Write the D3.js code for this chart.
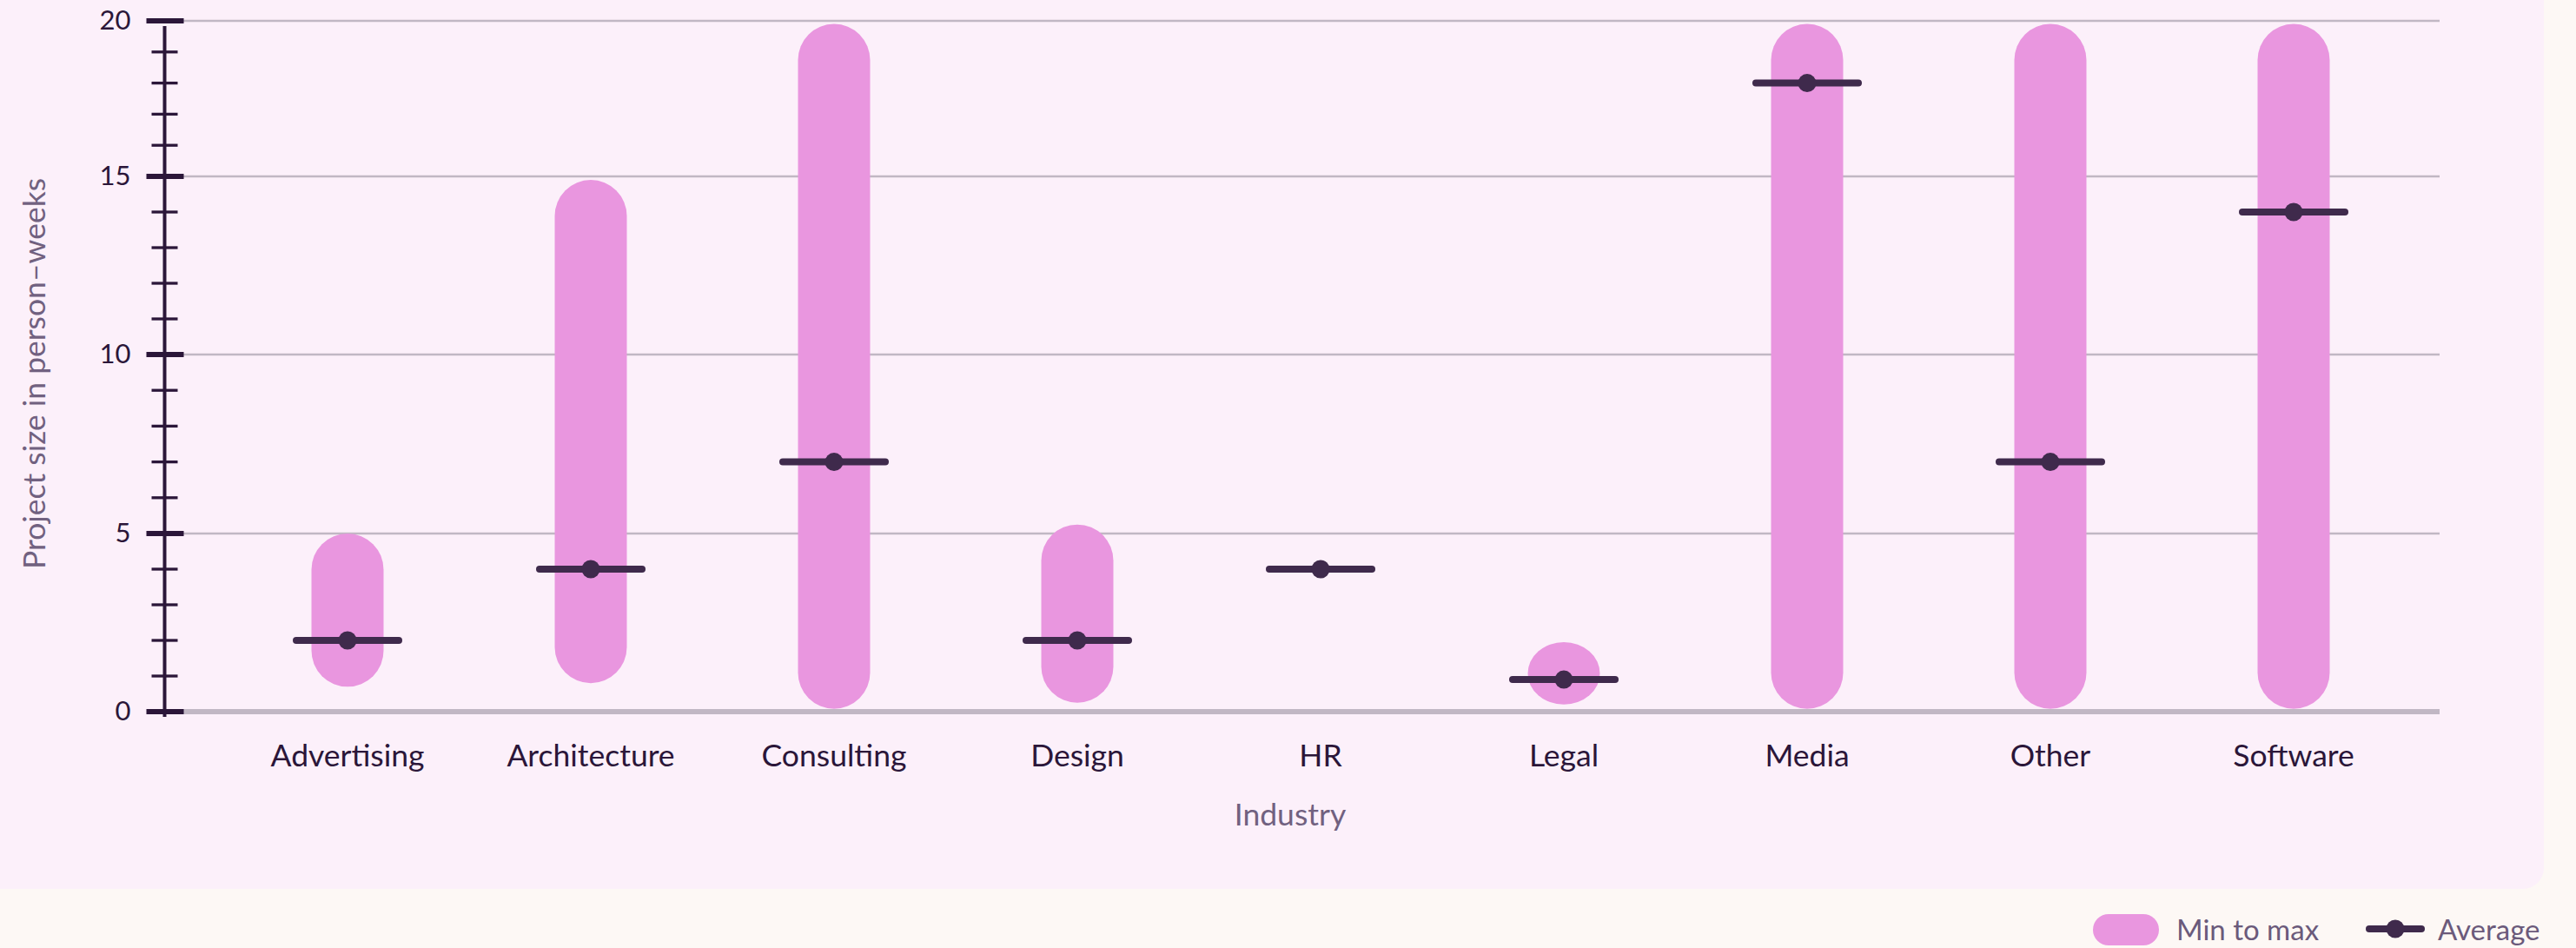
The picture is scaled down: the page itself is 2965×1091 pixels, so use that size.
<!DOCTYPE html>
<html>
<head>
<meta charset="utf-8">
<script src="https://cdn.jsdelivr.net/npm/d3@7"></script>
<style>
  html, body { margin: 0; padding: 0; background: #fdf8f5; }
  svg { display: block; font-family: "Lato", "Noto Sans", sans-serif; }
</style>
</head>
<body>
<svg id="chart"></svg>
<script>
const industries = ["Advertising", "Architecture", "Consulting", "Design", "HR", "Legal", "Media", "Other", "Software"];
const minValues = [0.7, 0.8, 0.08, 0.25, 4, 0.2, 0.08, 0.08, 0.08];
const maxValues = [5, 14.9, 19.9, 5.25, 4, 1.95, 19.9, 19.9, 19.9];
const avgValues = [2, 4, 7, 2, 4, 0.9, 18, 7, 14];
const majorTicks = [0, 5, 10, 15, 20];
const minorTicks = d3.range(0, 20).filter((v) => v % 5 !== 0);

const width = 2965;
const height = 1091;
const plotLeft = 211;
const plotRight = 2808;

const svg = d3.select("#chart").attr("width", width).attr("height", height);

// panel behind the plot
svg.append("rect")
  .attr("x", -40).attr("y", -40)
  .attr("width", 2968).attr("height", 1063)
  .attr("rx", 24)
  .attr("fill", "#fcf0fa");

const xScale = d3.scaleBand().domain(industries).range([260, 2780]).padding(0);

// the top step (15-20) is drawn tighter than the rest in the original
const yScale = d3.scaleLinear().domain(majorTicks).range([819, 614, 408, 203, 24]);

const rows = industries.map((name, i) => ({
  name,
  min: minValues[i],
  max: maxValues[i],
  avg: avgValues[i]
}));

const cx = (d) => xScale(d.name) + xScale.bandwidth() / 2;

// gridlines
svg.append("g")
  .selectAll("line")
  .data(majorTicks)
  .enter()
  .append("line")
  .attr("x1", plotLeft)
  .attr("x2", plotRight)
  .attr("y1", (d) => yScale(d))
  .attr("y2", (d) => yScale(d))
  .attr("stroke", "#c1b7c4")
  .attr("stroke-width", (d) => (d === 0 ? 6 : 2.5));

// y axis (labels from d3.axisLeft, ticks drawn wide/narrow)
const yAxis = d3.axisLeft(yScale).tickValues(majorTicks).tickSize(0).tickPadding(39);
const yAxisG = svg.append("g").attr("transform", "translate(189.5,0)").call(yAxis);
yAxisG.select(".domain").remove();
yAxisG.selectAll("text")
  .attr("fill", "#2b1639")
  .style("font-size", "31px")
  .style("font-family", "Lato, sans-serif");

yAxisG.append("line")
  .attr("x1", 0).attr("x2", 0)
  .attr("y1", yScale(20) + 6).attr("y2", yScale(0) + 6)
  .attr("stroke", "#2b1639").attr("stroke-width", 4);

yAxisG.selectAll(".major")
  .data(majorTicks)
  .enter()
  .append("line")
  .attr("class", "major")
  .attr("x1", -21).attr("x2", 22)
  .attr("y1", (d) => yScale(d)).attr("y2", (d) => yScale(d))
  .attr("stroke", "#2b1639").attr("stroke-width", 6);

yAxisG.selectAll(".minor")
  .data(minorTicks)
  .enter()
  .append("line")
  .attr("class", "minor")
  .attr("x1", -15).attr("x2", 15)
  .attr("y1", (d) => yScale(d)).attr("y2", (d) => yScale(d))
  .attr("stroke", "#2b1639").attr("stroke-width", 3.3);

// x axis labels
const xAxis = d3.axisBottom(xScale).tickSize(0).tickPadding(0);
const xAxisG = svg.append("g").attr("transform", "translate(0,854)").call(xAxis);
xAxisG.select(".domain").remove();
xAxisG.selectAll("text")
  .attr("fill", "#2b1639")
  .attr("dy", "0.8em")
  .style("font-size", "35.5px")
  .style("font-family", "Lato, sans-serif");

// axis titles
svg.append("text")
  .attr("x", 1485).attr("y", 950)
  .attr("text-anchor", "middle")
  .attr("fill", "#716180")
  .style("font-size", "35.5px")
  .text("Industry");

svg.append("text")
  .attr("transform", "translate(52,430) rotate(-90)")
  .attr("text-anchor", "middle")
  .attr("fill", "#716180")
  .style("font-size", "35.5px")
  .text("Project size in person\u2013weeks");

// min to max bars
const barWidth = 83;
svg.append("g")
  .selectAll("rect")
  .data(rows)
  .enter()
  .append("rect")
  .attr("x", (d) => cx(d) - barWidth / 2)
  .attr("y", (d) => yScale(d.max))
  .attr("width", barWidth)
  .attr("height", (d) => yScale(d.min) - yScale(d.max))
  .attr("rx", barWidth / 2)
  .attr("fill", "#e996df");

// averages
const avgG = svg.append("g")
  .selectAll("g")
  .data(rows)
  .enter()
  .append("g")
  .attr("transform", (d) => `translate(${cx(d)},${yScale(d.avg)})`);

avgG.append("line")
  .attr("x1", -59).attr("x2", 59)
  .attr("stroke", "#3f2a4c")
  .attr("stroke-width", 8)
  .attr("stroke-linecap", "round");

avgG.append("circle").attr("r", 10.5).attr("fill", "#3f2a4c");

// legend
const legend = svg.append("g");
legend.append("rect")
  .attr("x", 2409).attr("y", 1052)
  .attr("width", 76).attr("height", 36)
  .attr("rx", 18)
  .attr("fill", "#e996df");
legend.append("text")
  .attr("x", 2505).attr("y", 1082)
  .attr("fill", "#6b5a7b")
  .style("font-size", "33px")
  .text("Min to max");
legend.append("line")
  .attr("x1", 2727).attr("x2", 2787)
  .attr("y1", 1069).attr("y2", 1069)
  .attr("stroke", "#3f2a4c")
  .attr("stroke-width", 8)
  .attr("stroke-linecap", "round");
legend.append("circle")
  .attr("cx", 2757).attr("cy", 1069).attr("r", 10.5)
  .attr("fill", "#3f2a4c");
legend.append("text")
  .attr("x", 2806).attr("y", 1082)
  .attr("fill", "#6b5a7b")
  .style("font-size", "33px")
  .text("Average");
</script>
</body>
</html>
